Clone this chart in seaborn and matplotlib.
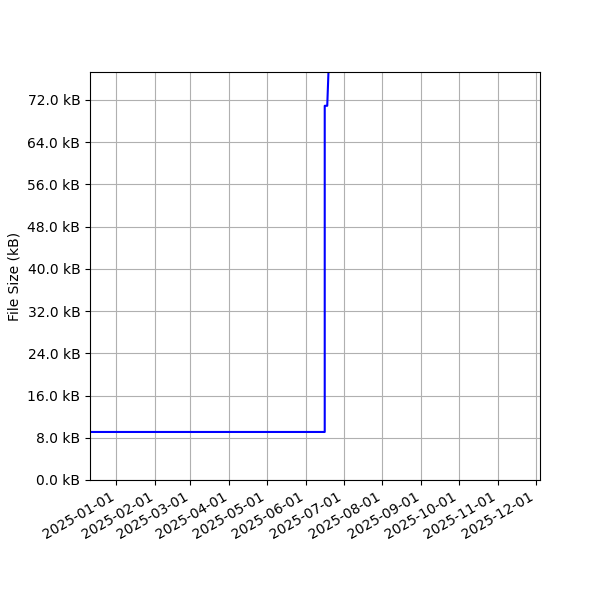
import pandas as pd
import matplotlib
matplotlib.use("Agg")
import matplotlib.pyplot as plt
import matplotlib.dates as mdates
from matplotlib.ticker import MultipleLocator, FuncFormatter
import seaborn as sns

dates = ["2024-12-11", "2025-06-16", "2025-06-16", "2025-06-18", "2025-06-20"]
sizes_kb = [9.1, 9.1, 70.9, 70.9, 84.0]

df = pd.DataFrame({"date": pd.to_datetime(dates), "size": sizes_kb})

fig, ax = plt.subplots(figsize=(6, 6), dpi=100)
sns.lineplot(x="date", y="size", data=df, ax=ax, color="blue",
             estimator=None, sort=False, linewidth=1.5)

ax.set_xlim(pd.Timestamp("2024-12-11"), pd.Timestamp("2025-12-04 12:00"))
ax.set_ylim(0, 77.3)
ax.yaxis.set_major_locator(MultipleLocator(8))
ax.yaxis.set_major_formatter(FuncFormatter(lambda v, p: f"{v:.1f} kB"))
ax.xaxis.set_major_locator(mdates.MonthLocator())
ax.xaxis.set_major_formatter(mdates.DateFormatter("%Y-%m-%d"))
ax.grid(True)
ax.set_xlabel("")
ax.set_ylabel("File Size (kB)")

fig.autofmt_xdate()
fig.subplots_adjust(left=0.15, right=0.9, top=0.88, bottom=0.2)
fig.savefig("out.png")
